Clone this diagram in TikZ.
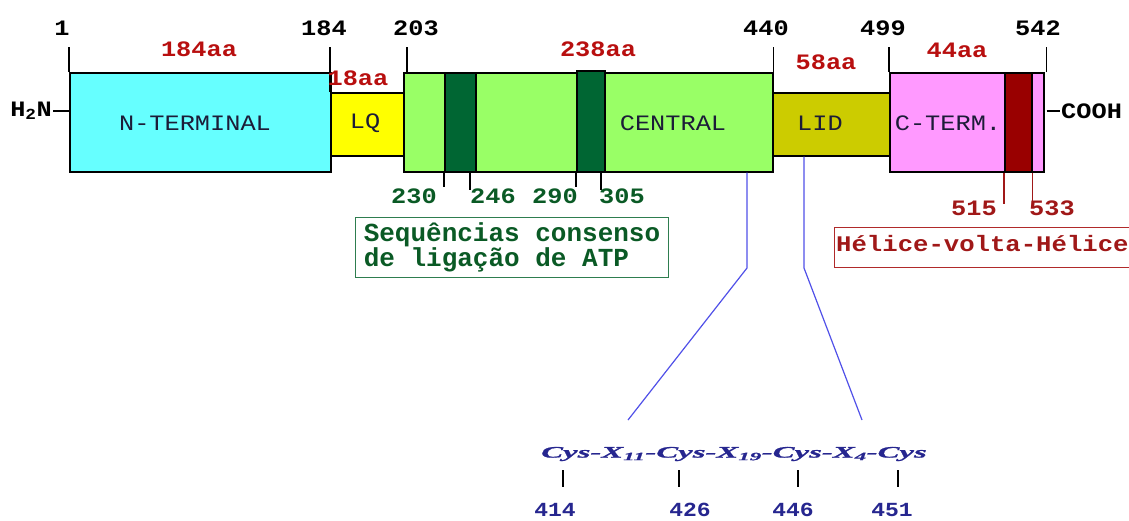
\documentclass[tikz,border=0pt]{standalone}
\usepackage{fontspec}
\setmainfont{Liberation Serif}
\newfontfamily\pix[FakeStretch=1.15]{Liberation Mono}
\newfontfamily\pixplain{Liberation Mono}
\newfontfamily\cysfont[FakeStretch=2.05,FakeBold=1.2]{Liberation Serif}

\definecolor{ntc}{HTML}{66FFFF}
\definecolor{lqc}{HTML}{FFFF00}
\definecolor{cenc}{HTML}{99FF66}
\definecolor{bandg}{HTML}{006633}
\definecolor{lidc}{HTML}{CCCC00}
\definecolor{ctc}{HTML}{FF99FF}
\definecolor{bandr}{HTML}{990000}
\definecolor{lenred}{HTML}{B80F0F}
\definecolor{domtext}{HTML}{1C1C38}
\definecolor{atpgreen}{HTML}{0A5A25}
\definecolor{atpbox}{HTML}{2E7D4F}
\definecolor{hthred}{HTML}{A01818}
\definecolor{hthbox}{HTML}{B02A2A}
\definecolor{linkblue}{HTML}{5050E8}
\definecolor{cysblue}{HTML}{26268F}

\tikzset{
  seg/.style={draw=black, line width=1.5pt, inner sep=0pt, anchor=north west},
  tickline/.style={line width=1.3pt, black},
  posnum/.style={font=\pix\bfseries\fontsize{22}{22}\selectfont, text=black, inner sep=1pt},
  lenlab/.style={font=\pix\bfseries\fontsize{22}{22}\selectfont, text=lenred, inner sep=1pt},
  domlab/.style={font=\pix\fontsize{22}{22}\selectfont, text=domtext, inner sep=0pt},
  atpnum/.style={font=\pix\bfseries\fontsize{22}{22}\selectfont, text=atpgreen, inner sep=1pt},
  hthnum/.style={font=\pix\bfseries\fontsize{22}{22}\selectfont, text=hthred, inner sep=1pt},
  hthtick/.style={line width=1.3pt, hthred},
  linkline/.style={line width=1.2pt, linkblue},
  cysnum/.style={font=\pix\bfseries\fontsize{20}{20}\selectfont, text=cysblue, inner sep=1pt},
}

\begin{document}
\begin{tikzpicture}[x=1pt, y=-1pt]
\useasboundingbox (0,0) rectangle (1129,520);

% domain boxes
\node[seg, fill=ntc,  minimum width=261pt, minimum height=99pt]  (nterm)   at (69,72)   {};
\node[seg, fill=lqc,  minimum width=73pt,  minimum height=63pt]  (lq)      at (330,92)  {};
\node[seg, fill=cenc, minimum width=369pt, minimum height=99pt]  (central) at (403,72)  {};
\node[seg, fill=bandg, minimum width=31pt, minimum height=99pt]  (atp1)    at (444,72)  {};
\node[seg, fill=bandg, minimum width=28pt, minimum height=101pt] (atp2)    at (576,70)  {};
\node[seg, fill=lidc, minimum width=117pt, minimum height=63pt]  (lid)     at (772,92)  {};
\node[seg, fill=ctc,  minimum width=154pt, minimum height=99pt]  (cterm)   at (889,72)  {};
\node[seg, fill=bandr, minimum width=27pt, minimum height=99pt]  (hth)     at (1004,72) {};

% domain names
\node[domlab] at (195,123) {N-TERMINAL};
\node[domlab] at (365,123) {LQ};
\node[domlab] at (673,123) {CENTRAL};
\node[domlab] at (820,123) {LID};
\node[domlab] at (948,123) {C-TERM.};

% boundary ticks
\draw[tickline] (nterm.north west) -- ++(0,-25);
\draw[tickline] (lq.north west) -- ++(0,-45);
\draw[tickline] ([xshift=4pt]central.north west) -- ++(0,-25);
\draw[tickline] (central.north east) -- ++(0,-25);
\draw[tickline] (cterm.north west) -- ++(0,-25);
\draw[tickline] ([xshift=2pt]cterm.north east) -- ++(0,-25);

% residue positions
\node[posnum] at (62,28)   {1};
\node[posnum] at (324,28)  {184};
\node[posnum] at (416,28)  {203};
\node[posnum] at (766,28)  {440};
\node[posnum] at (883,28)  {499};
\node[posnum] at (1038,28) {542};

% domain lengths
\node[lenlab] at (199,49) {184aa};
\node[lenlab] at (358,78) {18aa};
\node[lenlab] at (598,49) {238aa};
\node[lenlab] at (826,62) {58aa};
\node[lenlab] at (957,50) {44aa};

% termini
\node[posnum, anchor=east] (h2n) at (53,111) {H\textsubscript{2}N};
\draw[tickline] (h2n.east) -- (nterm.west |- h2n.east);
\node[posnum, anchor=west] (cooh) at (1060,111) {COOH};
\draw[tickline] ([xshift=2pt]cterm.east |- cooh.west) -- (cooh.west);

% ATP-binding consensus motifs
\draw[tickline] (444,171) -- (444,187);
\draw[tickline] (470,171) -- (470,190);
\draw[tickline] (576,171) -- (576,187);
\draw[tickline] (601,171) -- (601,190);
\node[atpnum] at (414,196) {230};
\node[atpnum] at (493,196) {246};
\node[atpnum] at (555,196) {290};
\node[atpnum] at (622,196) {305};
\node[draw=atpbox, line width=1pt, anchor=north west, inner sep=0pt,
      minimum width=313pt, minimum height=60pt, align=left, text=atpgreen,
      font=\pixplain\bfseries\fontsize{26}{25}\selectfont] (atpnote) at (355,217)
  {Sequências consenso\\de ligação de ATP};

% helix-turn-helix motif
\draw[hthtick] (hth.south west) -- ++(0,31);
\draw[hthtick] (hth.south east) -- ++(0,29);
\node[hthnum] at (974,208)  {515};
\node[hthnum] at (1052,208) {533};
\node[draw=hthbox, line width=1pt, anchor=north west, inner sep=0pt,
      minimum width=320pt, minimum height=40pt] (hthnote) at (834,227) {};
\node[anchor=west, inner sep=0pt, text=hthred,
      font=\pix\bfseries\fontsize{22.3}{22}\selectfont] at (836,244) {Hélice-volta-Hélice};

% cysteine motif and its links
\node[inner sep=0pt, text=cysblue, font=\cysfont\bfseries\itshape\fontsize{16}{16}\selectfont]
  (cys) at (734,454) {Cys-X\textsubscript{11}-Cys-X\textsubscript{19}-Cys-X\textsubscript{4}-Cys};
\coordinate (linkA) at (628,420);
\coordinate (linkB) at (862,420);
\draw[linkline] (747,0 |- central.south) -- (747,268) -- (linkA);
\draw[linkline] (804,0 |- lid.south) -- (804,268) -- (linkB);

\draw[tickline] (563,470) -- (563,487);
\draw[tickline] (679,470) -- (679,487);
\draw[tickline] (798,470) -- (798,487);
\draw[tickline] (898,470) -- (898,487);
\node[cysnum] at (555,510) {414};
\node[cysnum] at (690,510) {426};
\node[cysnum] at (793,510) {446};
\node[cysnum] at (892,510) {451};
\end{tikzpicture}
\end{document}
